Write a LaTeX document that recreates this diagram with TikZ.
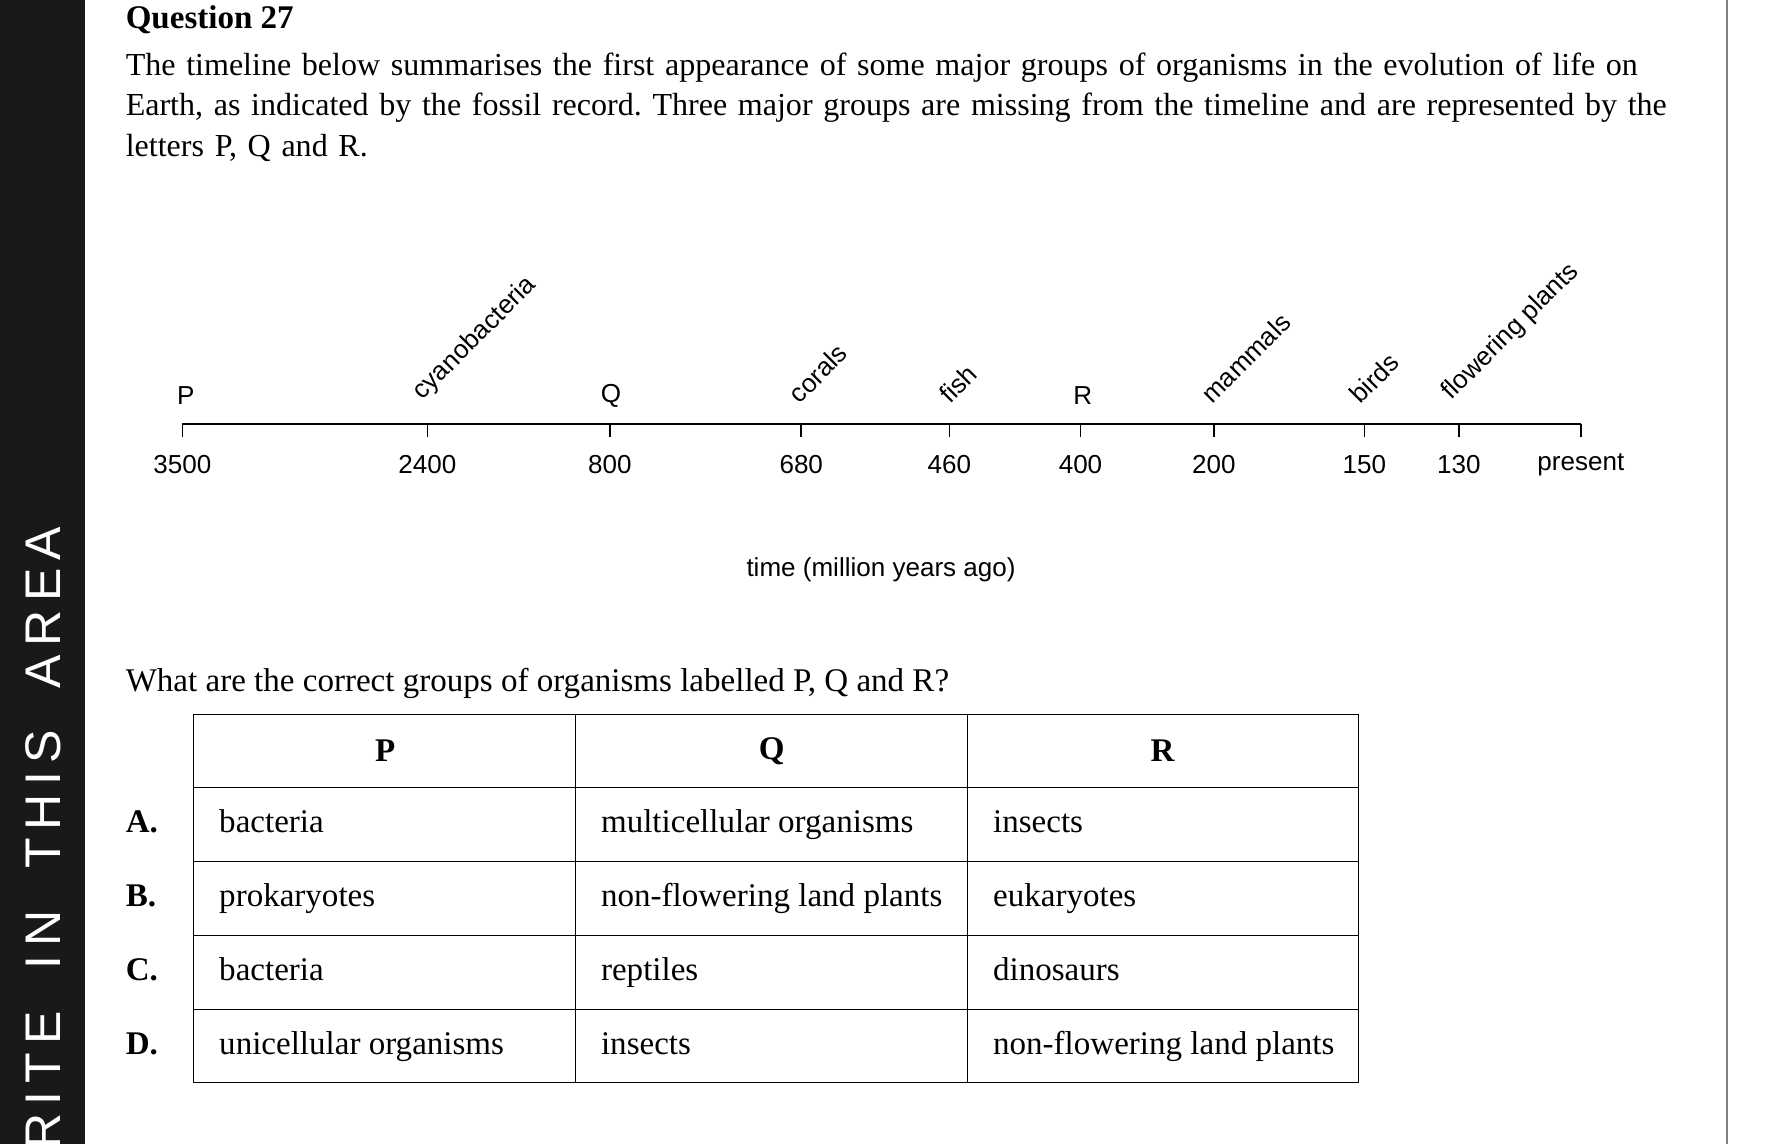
\documentclass[tikz,border=0pt]{standalone}
\usepackage{fontspec}
\setmainfont{Liberation Serif}
\setsansfont{Liberation Sans}
\begin{document}
\frenchspacing
\begin{tikzpicture}[x=0.02cm,y=-0.02cm,>=latex]
    \tikzset{serif/.style={font=\fontsize{16.5}{20}\selectfont, inner sep=0pt}};
    \tikzset{sans/.style={font=\sffamily\fontsize{13}{15}\selectfont, inner sep=1pt}};
    \tikzset{tick/.style={thick}};
    \useasboundingbox (0,0) rectangle (1567,1004);
    \fill[black!90] (0,0) rectangle (75,1004);
    \begin{scope}
      \clip (0,0) rectangle (75,1004);
      \node[rotate=90, anchor=east, text=white, font=\sffamily\fontsize{25}{30}\selectfont] (band) at (38,456) {W\,R\,I\,T\,E\ \ \ I\,N\ \ \ T\,H\,I\,S\ \ \ A\,R\,E\,A};
    \end{scope}
    \draw[gray, line width=1.2pt] (1515,0) -- (1515,1004);
    \node[serif, anchor=west, font=\bfseries\fontsize{16.5}{20}\selectfont] (title) at (110,17) {Question 27};
    \node[serif, anchor=north west, text width=27.2cm, align=left, font=\fontsize{16.0}{20.2}\selectfont] (intro) at (110,46)
      {The timeline below summarises the first appearance of some major groups of organisms in the evolution of life on Earth, as indicated by the fossil record. Three major groups are missing from the timeline and are represented by the letters P, Q and R.};
    % timeline
    \coordinate (t0) at (160,372);
    \coordinate (t1) at (1387,372);
    \draw[thick] (t0) -- (t1);
    \foreach \x/\lab in {160/3500, 375/2400, 535/800, 703/680, 833/460, 948/400, 1065/200, 1197/150, 1280/130, 1387/present} {
      \draw[tick] (\x,372) -- (\x,383);
      \node[sans] at (\x,408) {\lab};
    }
    \node[sans] (p) at (163,347) {P};
    \node[sans] (q) at (536,347) {Q};
    \node[sans] (r) at (950,347) {R};
    \foreach \x/\lab in {372/cyanobacteria, 700/corals, 832/fish, 1062/mammals, 1192/birds, 1275/flowering plants} {
      \node[sans, rotate=45, anchor=south west] at (\x+2,358) {\lab};
    }
    \node[sans] (axis) at (773,500) {time (million years ago)};
    \node[serif, anchor=west] (ask) at (110,600) {What are the correct groups of organisms labelled P, Q and R?};
    % table
    \draw (170,627) rectangle (1192,950);
    \foreach \y in {691,756,821,886} \draw (170,\y) -- (1192,\y);
    \foreach \x in {505,849} \draw (\x,627) -- (\x,950);
    \node[serif, font=\bfseries\fontsize{16.5}{20}\selectfont] at (338,659) {P};
    \node[serif, font=\bfseries\fontsize{16.5}{20}\selectfont] at (677,659) {Q};
    \node[serif, font=\bfseries\fontsize{16.5}{20}\selectfont] at (1020,659) {R};
    \foreach \y/\l/\a/\b/\c in {724/A./bacteria/multicellular organisms/insects,
        789/B./prokaryotes/non-flowering land plants/eukaryotes,
        854/C./bacteria/reptiles/dinosaurs,
        919/D./unicellular organisms/insects/non-flowering land plants} {
      \node[serif, anchor=base west, font=\bfseries\fontsize{16.5}{20}\selectfont] at (110,\y+6) {\l};
      \node[serif, anchor=base west] at (192,\y+6) {\a};
      \node[serif, anchor=base west] at (527,\y+6) {\b};
      \node[serif, anchor=base west] at (871,\y+6) {\c};
    }
\end{tikzpicture}
\end{document}
